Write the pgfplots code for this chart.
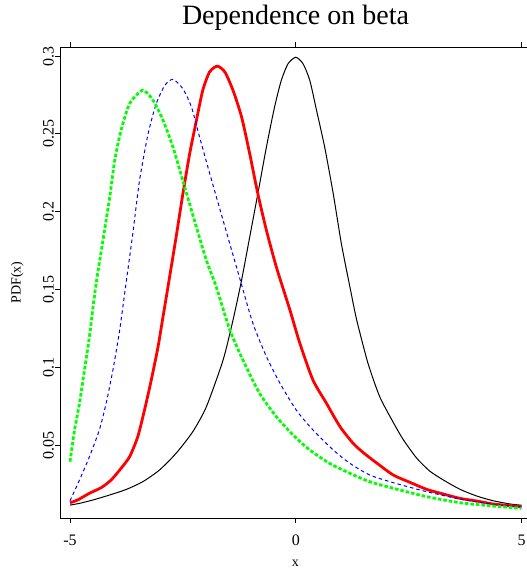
\documentclass[border=0pt]{standalone}
\usepackage{fontspec}
\setmainfont{Liberation Serif}
\usepackage{pgfplots}
\pgfplotsset{compat=1.18}
\definecolor{rgreen}{rgb}{0,1,0}
\begin{document}
\begin{tikzpicture}
\begin{axis}[name=ax, scale only axis, width=471pt, height=471pt,
  xmin=-5.222, xmax=5.21, ymin=0.0031, ymax=0.3058,
  xtick={-5,0,5}, xticklabels={-5,0,5},
  ytick={0.05,0.1,0.15,0.2,0.25,0.3}, yticklabels={0.05,0.1,0.15,0.2,0.25,0.3},
  xtick pos=both, xticklabel pos=bottom, ytick pos=left,
  tick align=outside, major tick length=5pt,
  tick style={black, line width=0.8pt},
  axis line style={line width=0.8pt},
  ticklabel style={font=\rmfamily\fontsize{16}{18}\selectfont},
  yticklabel style={rotate=90, anchor=south, inner sep=1pt},
  xticklabel style={anchor=north, inner sep=0pt, yshift=-12pt},
  title={Dependence on beta},
  title style={font=\rmfamily\fontsize{28}{30}\selectfont, at={(axis description cs:0.5,1)}, anchor=base, yshift=16pt},
  xlabel={x}, ylabel={PDF(x)},
  xlabel style={font=\rmfamily\fontsize{14}{16}\selectfont, at={(axis description cs:0.5,-0.097)}, anchor=center},
  ylabel style={font=\rmfamily\fontsize{14}{16}\selectfont, at={(axis description cs:-0.091,0.5)}, anchor=center},
  clip=true,
]
\addplot[black, line width=1pt, smooth, tension=0.4] coordinates {
(-5,0.0114) (-4.79,0.0125) (-4.49,0.0147) (-4.12,0.0179) (-3.75,0.0215) (-3.39,0.0264)
(-3.02,0.0339) (-2.65,0.0447) (-2.28,0.0586) (-1.98,0.0746) (-1.61,0.1046) (-1.39,0.1303)
(-1.2,0.156) (-1.02,0.1837) (-0.84,0.2115) (-0.65,0.2415) (-0.47,0.2672) (-0.32,0.2844)
(-0.17,0.2951) (0,0.2992) (0.16,0.2951) (0.31,0.2844) (0.46,0.2651) (0.64,0.2415)
(0.83,0.2115) (1.01,0.1794) (1.2,0.1515) (1.35,0.1303) (1.6,0.1025) (1.86,0.081)
(2.16,0.0645) (2.38,0.0535) (2.68,0.0415) (2.97,0.0332) (3.27,0.0275) (3.64,0.0215)
(4.01,0.0172) (4.37,0.0142) (4.75,0.0121) (5,0.0113)
};
\addplot[red, line width=2.8pt, smooth, tension=0.4] coordinates {
(-5,0.0129) (-4.83,0.0147) (-4.57,0.019) (-4.31,0.0226) (-4.09,0.0275) (-3.87,0.035)
(-3.68,0.0425) (-3.5,0.0553) (-3.35,0.0725) (-3.2,0.0918) (-3.05,0.1132) (-2.94,0.1325)
(-2.83,0.1517) (-2.65,0.1837) (-2.5,0.2115) (-2.35,0.2372) (-2.2,0.2587) (-2.06,0.278)
(-1.91,0.2897) (-1.74,0.2935) (-1.57,0.2897) (-1.39,0.278) (-1.2,0.2608) (-1.02,0.2372)
(-0.84,0.2115) (-0.65,0.188) (-0.43,0.1644) (-0.13,0.1368) (0.09,0.1154) (0.38,0.0918)
(0.68,0.0768) (0.98,0.0618) (1.27,0.0511) (1.5,0.045) (1.79,0.0385) (2.16,0.0307)
(2.53,0.026) (2.9,0.0215) (3.27,0.0185) (3.64,0.0157) (4.01,0.014) (4.37,0.0121)
(4.7,0.0112) (5,0.0103)
};
\addplot[blue, line width=1pt, dash pattern=on 3.5pt off 3pt, smooth, tension=0.4] coordinates {
(-5,0.0142) (-4.79,0.0275) (-4.57,0.0425) (-4.35,0.0597) (-4.2,0.0768) (-4.05,0.0982)
(-3.9,0.1239) (-3.75,0.156) (-3.61,0.1858) (-3.46,0.2201) (-3.27,0.2501) (-3.09,0.2694)
(-2.9,0.2812) (-2.72,0.285) (-2.5,0.279) (-2.31,0.2672) (-2.13,0.2479) (-1.91,0.2249)
(-1.61,0.1944) (-1.22,0.155) (-0.95,0.1282) (-0.65,0.1068) (-0.35,0.0897) (0.01,0.0725)
(0.38,0.0597) (0.83,0.0468) (1.2,0.0382) (1.64,0.0307) (2.16,0.0258) (2.9,0.02)
(3.64,0.0153) (4.37,0.0119) (5,0.0103)
};
\addplot[rgreen, line width=2.8pt, dash pattern=on 3.5pt off 2pt, smooth, tension=0.4] coordinates {
(-5,0.0393) (-4.9,0.0597) (-4.79,0.0768) (-4.68,0.0982) (-4.57,0.1196) (-4.49,0.1389)
(-4.41,0.156) (-4.27,0.1816) (-4.12,0.2094) (-4.01,0.233) (-3.87,0.2522) (-3.68,0.2694)
(-3.39,0.278) (-3.16,0.2715) (-2.94,0.2587) (-2.72,0.2415) (-2.46,0.2158) (-2.2,0.19)
(-1.98,0.1687) (-1.76,0.1515) (-1.46,0.1239) (-1.17,0.1046) (-0.8,0.0832) (-0.43,0.0682)
(-0.06,0.0564) (0.31,0.0468) (0.75,0.0382) (1.2,0.0318) (1.64,0.0264) (2.16,0.0222)
(2.9,0.0168) (3.64,0.0129) (4.37,0.0108) (5,0.0093)
};
\end{axis}
\pgfresetboundingbox
\path[use as bounding box] ([shift={(-60pt,-53pt)}]ax.south west) rectangle ([shift={(467pt,518pt)}]ax.south west);
\end{tikzpicture}
\end{document}
